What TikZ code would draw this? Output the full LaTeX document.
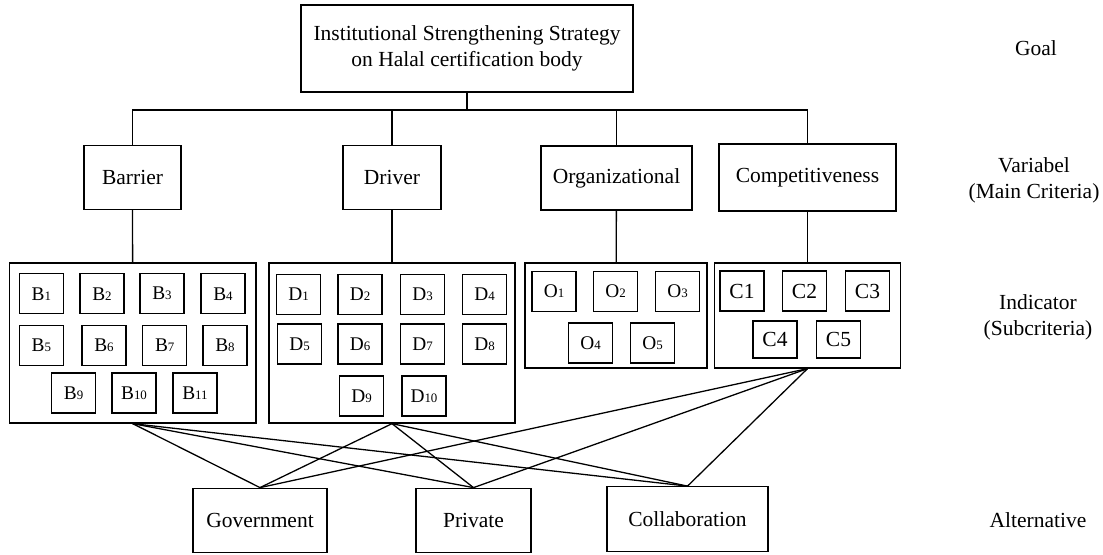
\documentclass[tikz,border=0pt]{standalone}
\usepackage{fontspec}
\setmainfont{Liberation Serif}
\newcommand{\smallidx}[2]{{\fontsize{9}{10}\selectfont #1}{\fontsize{6}{7}\selectfont #2}}
\begin{document}
\begin{tikzpicture}[x=0.465pt, y=-0.465pt, line width=0.6pt]

% definitions
\tikzstyle{goal} = [rectangle, minimum width=154.4pt, minimum height=40.5pt, text centered, draw=black, align=center, inner sep=0pt]

\tikzstyle{criteria} = [rectangle, minimum height=29.8pt, text centered, draw=black, inner sep=0pt]

\tikzstyle{subgroup} = [rectangle, draw=black, inner sep=0pt]

\tikzstyle{indicator} = [rectangle, minimum width=20.5pt, minimum height=18.6pt, text centered, draw=black, inner sep=0pt]

\tikzstyle{alternative} = [rectangle, minimum height=30pt, text centered, draw=black, inner sep=0pt]

\tikzstyle{layer} = [align=center]

\tikzstyle{connector} = [-]

\useasboundingbox (0,0) rectangle (1103,554);

% the graph
\node (goal) [goal] at (467,48.5) {Institutional Strengthening Strategy\\on Halal certification body};

\node (barrier) [criteria, minimum width=45.1pt] at (132.5,177.5) {Barrier};

\node (driver) [criteria, minimum width=45.6pt] at (392,177.5) {Driver};

\node (organizational) [criteria, minimum width=70.2pt] at (616.5,178) {Organizational};

\node (competitiveness) [criteria, minimum width=82.3pt, minimum height=31.2pt] at (807.5,177.5) {Competitiveness};

% indicator groups
\node (bgroup) [subgroup, minimum width=114.6pt, minimum height=74.4pt] at (132.75,343) {};

\node (dgroup) [subgroup, minimum width=114.4pt, minimum height=74.4pt] at (392,343) {};

\node (ogroup) [subgroup, minimum width=84.6pt, minimum height=48.8pt] at (616,315.5) {};

\node (cgroup) [subgroup, minimum width=86.5pt, minimum height=48.8pt] at (807.5,315.5) {};

\node (b1) [indicator] at (41.3,293.7) {\smallidx{B}{1}};
\node (b2) [indicator] at (102,293.7) {\smallidx{B}{2}};
\node (b3) [indicator] at (162,293.7) {\smallidx{B}{3}};
\node (b4) [indicator] at (223,293.7) {\smallidx{B}{4}};
\node (b5) [indicator] at (41.3,345.5) {\smallidx{B}{5}};
\node (b6) [indicator] at (104,345.5) {\smallidx{B}{6}};
\node (b7) [indicator] at (164.7,345.5) {\smallidx{B}{7}};
\node (b8) [indicator] at (225,345.5) {\smallidx{B}{8}};
\node (b9) [indicator] at (73.6,393) {\smallidx{B}{9}};
\node (b10) [indicator] at (134,393) {\smallidx{B}{10}};
\node (b11) [indicator] at (195,393) {\smallidx{B}{11}};

\node (d1) [indicator] at (298.5,294.5) {\smallidx{D}{1}};
\node (d2) [indicator] at (360,294.5) {\smallidx{D}{2}};
\node (d3) [indicator] at (422.5,294.5) {\smallidx{D}{3}};
\node (d4) [indicator] at (484.5,294.5) {\smallidx{D}{4}};
\node (d5) [indicator] at (299.5,344) {\smallidx{D}{5}};
\node (d6) [indicator] at (360,344) {\smallidx{D}{6}};
\node (d7) [indicator] at (422.5,344) {\smallidx{D}{7}};
\node (d8) [indicator] at (484.5,344) {\smallidx{D}{8}};
\node (d9) [indicator] at (361.5,396) {\smallidx{D}{9}};
\node (d10) [indicator] at (424,396) {\smallidx{D}{10}};

\node (o1) [indicator] at (554,291.5) {\smallidx{O}{1}};
\node (o2) [indicator] at (615.5,291.5) {\smallidx{O}{2}};
\node (o3) [indicator] at (677.5,291.5) {\smallidx{O}{3}};
\node (o4) [indicator] at (590.5,343) {\smallidx{O}{4}};
\node (o5) [indicator] at (652.5,343) {\smallidx{O}{5}};

\node (c1) [indicator] at (742,291) {C1};
\node (c2) [indicator] at (804.5,291) {C2};
\node (c3) [indicator] at (867.5,291) {C3};
\node (c4) [indicator, minimum height=17.2pt] at (775,339.5) {C4};
\node (c5) [indicator, minimum height=17.2pt] at (838.5,339.5) {C5};

% alternatives
\node (government) [alternative, minimum width=62.3pt] at (260,520.5) {Government};

\node (private) [alternative, minimum width=53.5pt] at (473.5,520.5) {Private};

\node (collaboration) [alternative, minimum width=74.9pt] at (687.5,519) {Collaboration};

% layer names
\node (lgoal) [layer] at (1036,48) {Goal};

\node (lvariabel) [layer] at (1034,180) {Variabel\\(Main Criteria)};

\node (lindicator) [layer] at (1038,317) {Indicator\\(Subcriteria)};

\node (lalternative) [layer] at (1038,520) {Alternative};

% connectors
\coordinate (bus) at (467,110);
\draw [connector] (goal.south) -- (bus);
\draw [connector] (barrier.north) |- (bus);
\draw [connector] (driver.north) |- (bus);
\draw [connector] (organizational.north) |- (bus);
\draw [connector] (competitiveness.north) |- (bus);

\draw [connector] (barrier) -- (bgroup);
\draw [connector] (driver) -- (dgroup);
\draw [connector] (organizational) -- (ogroup);
\draw [connector] (competitiveness) -- (cgroup);

\draw [connector] (bgroup.south) -- (government.north);
\draw [connector] (bgroup.south) -- (private.north);
\draw [connector] (bgroup.south) -- (collaboration.north);
\draw [connector] (dgroup.south) -- (government.north);
\draw [connector] (dgroup.south) -- (private.north);
\draw [connector] (dgroup.south) -- (collaboration.north);
\draw [connector] (cgroup.south) -- (government.north);
\draw [connector] (cgroup.south) -- (private.north);
\draw [connector] (cgroup.south) -- (collaboration.north);

\end{tikzpicture}
\end{document}
